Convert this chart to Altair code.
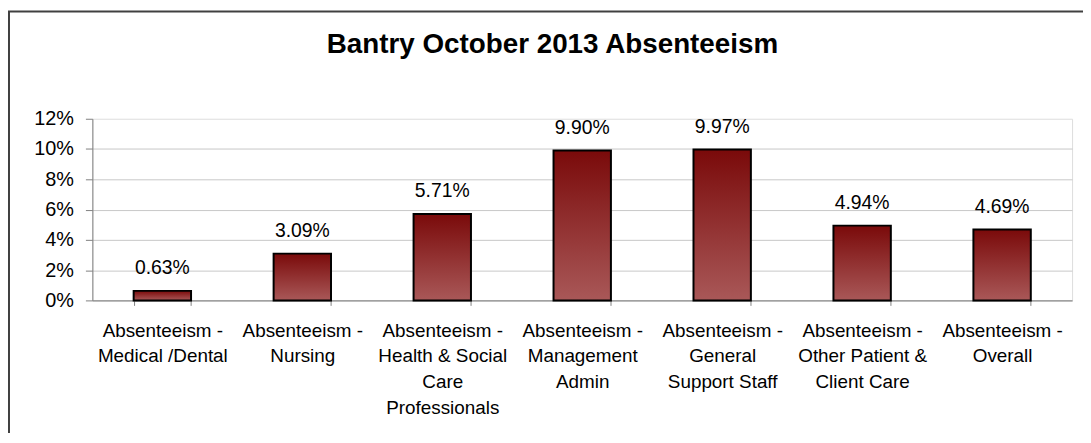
import altair as alt
import pandas as pd

categories = [
    "Absenteeism -|Medical /Dental",
    "Absenteeism -|Nursing",
    "Absenteeism -|Health & Social|Care|Professionals",
    "Absenteeism -|Management|Admin",
    "Absenteeism -|General|Support Staff",
    "Absenteeism -|Other Patient &|Client Care",
    "Absenteeism -|Overall",
]
values = [0.0063, 0.0309, 0.0571, 0.0990, 0.0997, 0.0494, 0.0469]
y_ticks = [0, 0.02, 0.04, 0.06, 0.08, 0.10, 0.12]

df = pd.DataFrame({"cat": categories, "val": values})

FONT = "Liberation Sans"

x_enc = alt.X(
    "cat:N",
    sort=None,
    title=None,
    scale=alt.Scale(paddingInner=0.59, paddingOuter=0.295),
    axis=alt.Axis(
        labelExpr="split(datum.label, '|')",
        labelAngle=0,
        labelFont=FONT,
        labelFontSize=19,
        labelLineHeight=26,
        labelColor="#000000",
        labelPadding=16,
        labelBaseline="top",
        tickBand="extent",
        tickSize=5,
        tickColor="#808080",
        domainColor="#808080",
        labelLimit=200,
        labelOverlap=False,
    ),
)
y_enc = alt.Y(
    "val:Q",
    title=None,
    scale=alt.Scale(domain=[0, 0.12], nice=False),
    axis=alt.Axis(
        values=y_ticks,
        format=".0%",
        labelFont=FONT,
        labelFontSize=20,
        labelColor="#000000",
        labelPadding=12,
        labelOverlap=False,
        tickSize=7,
        tickColor="#808080",
        domainColor="#808080",
        gridColor="#C8C8C8",
        gridOpacity=alt.condition("datum.value >= 0.119", alt.value(0), alt.value(1)),
    ),
)

bars = alt.Chart(df).mark_bar(
    stroke="#000000",
    strokeWidth=2,
    color=alt.Gradient(
        gradient="linear",
        stops=[
            alt.GradientStop(color="#7A0A0A", offset=0),
            alt.GradientStop(color="#A95858", offset=1),
        ],
        x1=0, x2=0, y1=0, y2=1,
    ),
).encode(x=x_enc, y=y_enc)

labels = alt.Chart(df).mark_text(
    font=FONT, fontSize=19.5, color="#000000", baseline="alphabetic", dy=-17
).encode(
    x=x_enc,
    y=y_enc,
    text=alt.Text("val:Q", format=".2%"),
)

border = alt.Chart(pd.DataFrame({"b": [0]})).mark_rect(
    fill=None, stroke="#404040", strokeWidth=2, clip=False
).encode(
    x=alt.value(-84), x2=alt.value(1010), y=alt.value(-108), y2=alt.value(340)
)

chart = alt.layer(bars, labels, border).properties(
    width=987,
    height=183,
    title=alt.TitleParams(
        "Bantry October 2013 Absenteeism",
        font=FONT,
        fontSize=28,
        fontWeight="bold",
        color="#000000",
        anchor="middle",
        dx=-30,
        offset=-49,
    ),
    padding={"left": 85, "top": 110, "right": 11, "bottom": 132},
    autosize=alt.AutoSizeParams(type="none"),
).configure_view(stroke=None).configure(background="#FFFFFF")

chart.save("out.html", embed_options={"renderer": "svg", "actions": False})
